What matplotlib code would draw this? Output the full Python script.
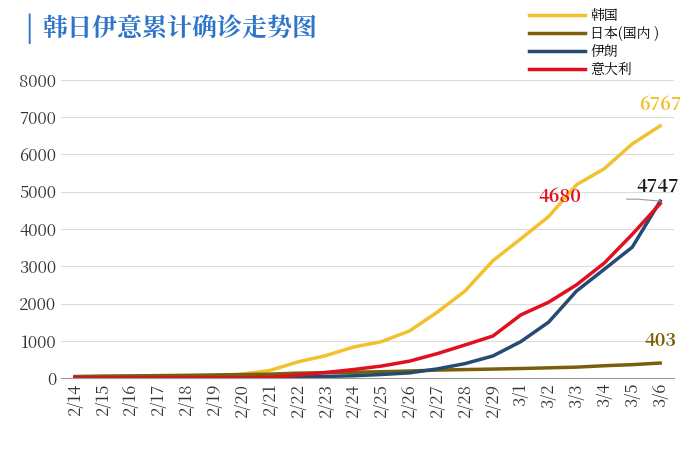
import matplotlib
matplotlib.use("Agg")
import matplotlib.pyplot as plt
from matplotlib import font_manager

# find an installed CJK font by name, fall back to a file search
cjk = None
for f in font_manager.fontManager.ttflist:
    if "CJK" in f.name and ("SC" in f.name or cjk is None):
        cjk = f.name
if cjk is None:
    for path in font_manager.findSystemFonts():
        if "CJK" in path:
            font_manager.fontManager.addfont(path)
            cjk = font_manager.FontProperties(fname=path).get_name()
            break
plt.rcParams["font.family"] = [cjk or "Noto Sans CJK SC", "DejaVu Sans"]

dates = ["2/14", "2/15", "2/16", "2/17", "2/18", "2/19", "2/20", "2/21", "2/22", "2/23", "2/24",
         "2/25", "2/26", "2/27", "2/28", "2/29", "3/1", "3/2", "3/3", "3/4", "3/5", "3/6"]
korea = [28, 28, 29, 30, 31, 51, 104, 204, 433, 602, 833, 977, 1261, 1766, 2337, 3150,
         3736, 4335, 5186, 5621, 6284, 6767]
japan = [41, 53, 59, 65, 73, 84, 94, 105, 132, 144, 156, 170, 189, 214, 228, 241, 256,
         274, 293, 331, 360, 403]
iran = [0, 0, 0, 0, 0, 2, 5, 18, 28, 43, 61, 95, 139, 245, 388, 593, 978, 1501, 2336,
        2922, 3513, 4747]
italy = [3, 3, 3, 3, 3, 3, 3, 20, 79, 150, 229, 322, 453, 655, 888, 1128, 1694, 2036,
         2502, 3089, 3858, 4680]

c_kr, c_jp, c_ir, c_it = "#F2C12E", "#7A5E0A", "#234B73", "#E0101E"

fig = plt.figure(figsize=(7, 4.49), dpi=100)
ax = fig.add_axes([0.087, 0.158, 0.876, 0.664])
x = range(len(dates))
ax.plot(x, korea, color=c_kr, lw=2.5, label="韩国")
ax.plot(x, japan, color=c_jp, lw=2.5, label="日本(国内 )")
ax.plot(x, iran, color=c_ir, lw=2.5, label="伊朗")
ax.plot(x, italy, color=c_it, lw=2.5, label="意大利")

ax.set_xlim(-0.5, 21.5)
ax.set_ylim(0, 8000)
ax.set_yticks(range(0, 8001, 1000))
ax.set_xticks(list(x))
ax.set_xticklabels(dates, rotation=90, fontsize=12, color="#333333")
ax.tick_params(axis="y", labelsize=12, colors="#333333", length=0)
ax.tick_params(axis="x", length=0)
ax.grid(axis="y", color="#dddddd", lw=0.8)
for s in ["top", "right", "left"]:
    ax.spines[s].set_visible(False)
ax.spines["bottom"].set_color("#999999")

ax.text(21, 7200, "6767", color=c_kr, fontsize=13, fontweight="bold", ha="center")
ax.text(17.4, 4850, "4680", color=c_it, fontsize=13, fontweight="bold", ha="center", va="center")
ax.text(20.9, 5000, "4747", color="#1a1a1a", fontsize=13, fontweight="bold", ha="center")
ax.plot([19.8, 20.2, 21], [4800, 4800, 4747], color="#999999", lw=0.8)
ax.text(21, 1000, "403", color=c_jp, fontsize=13, fontweight="bold", ha="center", va="center")

fig.legend(loc="upper right", bbox_to_anchor=(0.96, 1.01), frameon=False, fontsize=10,
           handlelength=4, labelspacing=0.15, handletextpad=0.4)
fig.text(0.035, 0.935, "|", color="#2e75c9", fontsize=20, fontweight="bold", va="center")
fig.text(0.06, 0.935, "韩日伊意累计确诊走势图", color="#2e75c9", fontsize=18,
         fontweight="bold", va="center")

fig.savefig("out.png", dpi=100)
